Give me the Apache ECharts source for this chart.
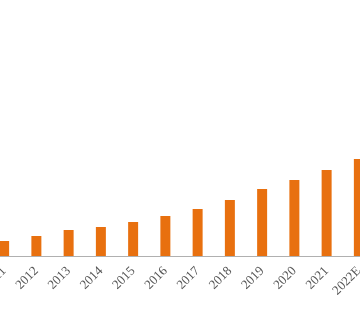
<!DOCTYPE html>
<html><head><meta charset="utf-8">
<style>html,body{margin:0;padding:0;background:#fff;}#c{width:360px;height:315px;}</style>
<script src="https://cdn.jsdelivr.net/npm/echarts@6/dist/echarts.min.js"></script>
</head><body><div id="c"></div>
<script>
const categories = ['2011','2012','2013','2014','2015','2016','2017','2018','2019','2020','2021','2022E'];
const values = [15, 20, 26, 29, 34, 40, 47, 56, 67, 76, 86, 97];
const chart = echarts.init(document.getElementById('c'), null, {renderer:'canvas'});
chart.setOption({
  animation:false,
  backgroundColor:'#ffffff',
  grid:{left:-12, right:-15, top:56, bottom:59, containLabel:false, outerBoundsMode:'none'},
  xAxis:{
    type:'category', data:categories, boundaryGap:true,
    axisLine:{lineStyle:{color:'#b0b0b0', width:1}},
    axisTick:{show:false},
    axisLabel:{rotate:45, margin:13, color:'#555555', fontFamily:'Liberation Serif', fontSize:13, interval:0}
  },
  yAxis:{type:'value', min:0, max:200, show:false, splitLine:{show:false}},
  series:[{type:'bar', data:values, barWidth:10, itemStyle:{color:'#E8700F'}}]
});
</script></body></html>
